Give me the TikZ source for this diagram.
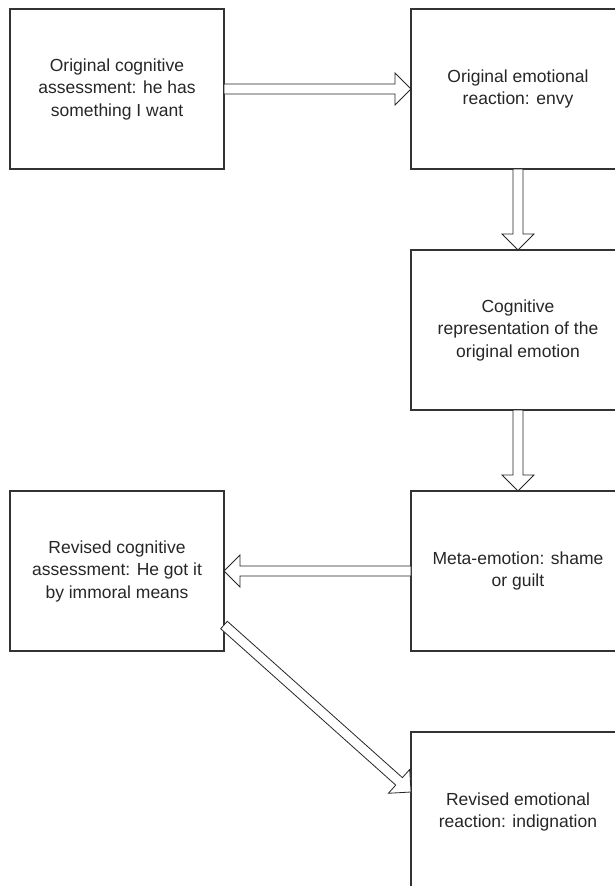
\documentclass[tikz,border=0pt]{standalone}
\usepackage{fontspec}
\setmainfont{Liberation Sans}
\usepackage{tikz}
\usetikzlibrary{positioning,calc}

\begin{document}
\begin{tikzpicture}[
  font=\fontsize{17.5pt}{22.5pt}\selectfont,
  node distance=81pt and 187pt,
  box/.style={
    rectangle, draw=black!80, line width=1.5pt, fill=none, text=black!85,
    minimum width=214pt, minimum height=160pt, align=center, outer sep=0pt,
    inner sep=0pt
  },
  fat/.style={
    draw=black!85, fill=white, line width=0.8pt, line join=miter,
    to path={
      ($(\tikztostart)!5pt!90:(\tikztotarget)$) --
      ($(\tikztotarget)!16pt!(\tikztostart)!5pt!90:(\tikztotarget)$) --
      ($(\tikztotarget)!16pt!(\tikztostart)!16pt!90:(\tikztotarget)$) --
      (\tikztotarget) --
      ($(\tikztotarget)!16pt!(\tikztostart)!16pt!-90:(\tikztotarget)$) --
      ($(\tikztotarget)!16pt!(\tikztostart)!5pt!-90:(\tikztotarget)$) --
      ($(\tikztostart)!5pt!-90:(\tikztotarget)$) -- cycle
    }
  }
]
\useasboundingbox (0,0) rectangle (615pt,-886pt);
\clip (0,0) rectangle (615pt,-886pt);

% --- Row 1: first appraisal and first emotion ---
\node[box] (origcog) at (117pt,-89pt)
  {Original cognitive\\assessment: he has\\something I want};
\node[box, right=of origcog] (origemo)
  {Original emotional\\reaction: envy};

% --- Right column going down ---
\node[box, below=of origemo] (cogrep)
  {Cognitive\\representation of the\\original emotion};
\node[box, below=of cogrep] (meta)
  {Meta-emotion: shame\\or guilt};
\node[box, left=of meta] (revcog)
  {Revised cognitive\\assessment: He got it\\by immoral means};
\node[box, below=of meta] (revemo)
  {Revised emotional\\reaction: indignation};

% --- Hollow arrows ---
\foreach \from/\to in {origcog.east/origemo.west, origemo.south/cogrep.north,
                       cogrep.south/meta.north, meta.west/revcog.east}
  \draw[fat] (\from) to (\to);
\draw[fat] ([yshift=26pt]revcog.south east) to ([yshift=-60pt]revemo.north west);

\end{tikzpicture}
\end{document}
